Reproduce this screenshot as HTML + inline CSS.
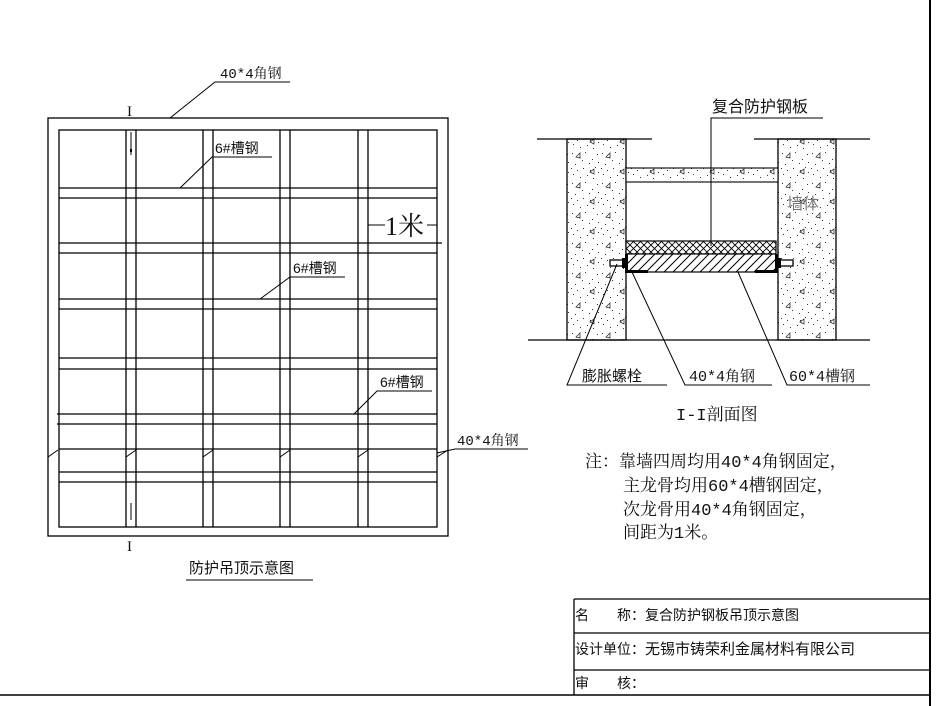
<!DOCTYPE html>
<html><head><meta charset="utf-8"><style>
html,body{margin:0;padding:0;background:#fff;}
svg{display:block;}
text{font-family:"Liberation Serif","Noto Serif CJK SC",serif;fill:#111;}
.s{font-family:"Liberation Sans","Noto Sans CJK SC",sans-serif;}
.m{font-family:"Liberation Mono","Noto Serif CJK SC",monospace;}
</style></head><body>
<svg width="944" height="706" viewBox="0 0 944 706" xmlns="http://www.w3.org/2000/svg">
<defs>
<pattern id="conc" width="30" height="30" patternUnits="userSpaceOnUse">
<rect width="30" height="30" fill="#fff"/>
<g fill="#333">
<rect x="2" y="3" width="1" height="1"/><rect x="9" y="7" width="1" height="1"/><rect x="15" y="2" width="1" height="1"/><rect x="22" y="9" width="1" height="1"/><rect x="27" y="4" width="1" height="1"/><rect x="5" y="14" width="1" height="1"/><rect x="13" y="18" width="1" height="1"/><rect x="19" y="13" width="1" height="1"/><rect x="25" y="17" width="1" height="1"/><rect x="3" y="24" width="1" height="1"/><rect x="10" y="27" width="1" height="1"/><rect x="17" y="25" width="1" height="1"/><rect x="23" y="28" width="1" height="1"/><rect x="28" y="22" width="1" height="1"/><rect x="7" y="20" width="1" height="1"/><rect x="20" y="20" width="1" height="1"/><rect x="28" y="12" width="1" height="1"/><rect x="12" y="10" width="1" height="1"/><rect x="1" y="18" width="1" height="1"/>
</g>
<path d="M6 7 l4 -4 v5 z M20 22 l4 -3 v5 z" fill="none" stroke="#333" stroke-width="0.8"/>
</pattern>
<pattern id="cross" width="7" height="7" patternUnits="userSpaceOnUse">
<rect width="7" height="7" fill="#fff"/>
<path d="M0 0 L7 7 M7 0 L0 7" stroke="#000" stroke-width="0.9"/>
</pattern>
<pattern id="hatch" width="9" height="9" patternUnits="userSpaceOnUse">
<rect width="9" height="9" fill="#fff"/>
<path d="M0 9 L9 0 M-2 2 L2 -2 M7 11 L11 7" stroke="#000" stroke-width="1"/>
</pattern>
</defs>

<g stroke="#000" stroke-width="1.3" fill="none">
<line x1="930" y1="0" x2="930" y2="706" stroke-width="2"/>
<line x1="0" y1="695" x2="930" y2="695" stroke-width="1.5"/>
<line x1="574" y1="599" x2="930" y2="599"/>
<line x1="574" y1="633" x2="930" y2="633"/>
<line x1="574" y1="670" x2="930" y2="670"/>
<line x1="574" y1="599" x2="574" y2="695"/>

<rect x="48" y="118" width="400" height="418"/>
<rect x="59" y="130" width="378" height="397"/>
<line x1="126" y1="130" x2="126" y2="527"/><line x1="136" y1="130" x2="136" y2="527"/>
<line x1="203" y1="130" x2="203" y2="527"/><line x1="213" y1="130" x2="213" y2="527"/>
<line x1="280" y1="130" x2="280" y2="527"/><line x1="290" y1="130" x2="290" y2="527"/>
<line x1="358" y1="130" x2="358" y2="527"/><line x1="368" y1="130" x2="368" y2="527"/>
<line x1="59" y1="188" x2="437" y2="188"/><line x1="59" y1="198" x2="437" y2="198"/>
<line x1="59" y1="243" x2="442" y2="243"/><line x1="59" y1="253" x2="437" y2="253"/>
<line x1="59" y1="299" x2="437" y2="299"/><line x1="59" y1="309" x2="437" y2="309"/>
<line x1="59" y1="358" x2="437" y2="358"/><line x1="59" y1="369" x2="437" y2="369"/>
<line x1="57" y1="414" x2="437" y2="414"/><line x1="57" y1="424" x2="437" y2="424"/>
<line x1="59" y1="449" x2="437" y2="449"/>
<line x1="59" y1="472" x2="437" y2="472"/><line x1="59" y1="482" x2="437" y2="482"/>
<g stroke-width="1">
<line x1="48" y1="457" x2="58" y2="450"/><line x1="126" y1="457" x2="136" y2="450"/><line x1="203" y1="457" x2="213" y2="450"/><line x1="280" y1="457" x2="290" y2="450"/><line x1="358" y1="457" x2="368" y2="450"/><line x1="437" y1="457" x2="448" y2="450"/>
<line x1="131" y1="132" x2="131" y2="155"/><line x1="131" y1="503" x2="131" y2="520"/>
<line x1="368" y1="225" x2="385" y2="225"/><line x1="427" y1="225" x2="437" y2="225"/>
<polyline points="170,118 215,82 290,82"/>
<polyline points="180,188 212,157 272,157"/>
<polyline points="260,299 290,277 345,277"/>
<polyline points="354,414 377,391 432,391"/>
<polyline points="437,453 455,449 528,449"/>
<line x1="186" y1="580" x2="313" y2="580"/>
</g>
</g>
<rect x="130" y="149" width="2" height="3" fill="#000"/>

<text class="m" x="220" y="78" font-size="14">40*4角钢</text>
<text x="127" y="116" font-size="15">I</text>
<text x="127" y="551" font-size="15">I</text>
<text class="s" x="215" y="153" font-size="14">6#槽钢</text>
<text class="s" x="293" y="273" font-size="14">6#槽钢</text>
<text class="s" x="380" y="387" font-size="14">6#槽钢</text>
<text class="m" x="457" y="445" font-size="14">40*4角钢</text>
<text x="385" y="235" font-size="26">1米</text>
<text class="s" x="189" y="573" font-size="15">防护吊顶示意图</text>

<rect x="567" y="139" width="59" height="201" fill="url(#conc)" stroke="#000" stroke-width="1.3"/>
<rect x="778" y="139" width="58" height="201" fill="url(#conc)" stroke="#000" stroke-width="1.3"/>
<rect x="626" y="168" width="152" height="14" fill="url(#conc)" stroke="#000" stroke-width="1.1"/>
<g stroke="#000" stroke-width="1.3" fill="none">
<line x1="537" y1="139" x2="652" y2="139"/>
<line x1="754" y1="139" x2="870" y2="139"/>
<line x1="528" y1="340" x2="870" y2="340"/>
</g>
<rect x="626" y="241" width="150" height="13" fill="url(#cross)" stroke="#000" stroke-width="1.2"/>
<rect x="626" y="254" width="150" height="18" fill="url(#hatch)" stroke="#000" stroke-width="1.2"/>
<g fill="#000">
<rect x="626" y="270" width="22" height="3"/><rect x="755" y="270" width="22" height="3"/>
<rect x="625" y="254" width="3" height="19"/><rect x="775" y="254" width="3" height="19"/>
</g>
<g stroke="#000" stroke-width="1.3" fill="#fff">
<rect x="610" y="260" width="14" height="6"/><rect x="779" y="260" width="14" height="6"/>
</g>
<rect x="622" y="258" width="5" height="10" fill="#000"/><rect x="776" y="258" width="5" height="10" fill="#000"/>
<g stroke="#000" stroke-width="1" fill="none">
<polyline points="711,246 711,118 823,118"/>
<polyline points="617,264 567,385 667,385"/>
<polyline points="632,272 685,385 772,385"/>
<polyline points="738,272 787,385 870,385"/>
</g>
<text class="s" x="712" y="112" font-size="16">复合防护钢板</text>
<text class="s" x="787" y="209" font-size="16" style="fill:#777">墙体</text>
<text class="s" x="582" y="381" font-size="15">膨胀螺栓</text>
<text class="m" x="689" y="381" font-size="15">40*4角钢</text>
<text class="m" x="789" y="381" font-size="15">60*4槽钢</text>
<text class="m" x="676" y="420" font-size="17">I-I剖面图</text>
<g font-size="17" class="m">
<text class="m" x="585" y="467">注：靠墙四周均用40*4角钢固定，</text>
<text class="m" x="623" y="491">主龙骨均用60*4槽钢固定，</text>
<text class="m" x="623" y="515">次龙骨用40*4角钢固定，</text>
<text class="m" x="623" y="538">间距为1米。</text>
</g>
<text class="s" x="575" y="620" font-size="14">名　　称：复合防护钢板吊顶示意图</text>
<text class="s" x="575" y="654" font-size="14">设计单位：<tspan font-size="15">无锡市铸荣利金属材料有限公司</tspan></text>
<text class="s" x="575" y="688" font-size="14">审　　核：</text>
</svg>
</body></html>
